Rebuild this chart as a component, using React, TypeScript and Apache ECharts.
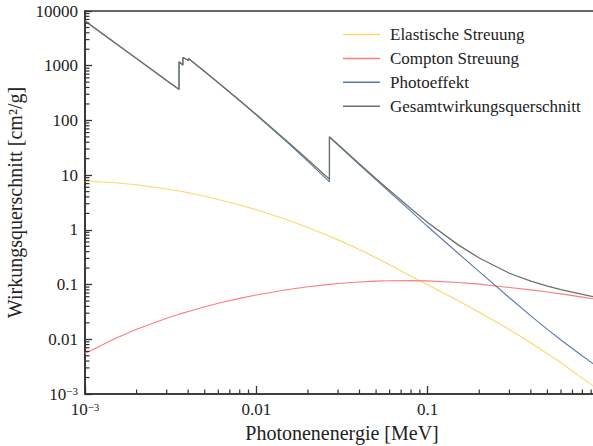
import React, { useEffect, useRef } from 'react';
import * as echarts from 'echarts';

// Photon energy [MeV] (duplicated energies = absorption edges)
const ENERGY = [0.001, 0.0015, 0.002, 0.003, 0.003538, 0.003538, 0.003727, 0.003727, 0.004018, 0.004018, 0.005, 0.006, 0.008, 0.01, 0.015, 0.02, 0.02671, 0.02671, 0.03, 0.04, 0.05, 0.06, 0.08, 0.1, 0.15, 0.2, 0.3, 0.4, 0.5, 0.6, 0.8, 1.0];
const ELASTIC = [7.80, 7.27, 6.66, 5.59, 5.12, 5.12, 4.97, 4.97, 4.75, 4.75, 4.12, 3.60, 2.85, 2.33, 1.54, 1.10, 0.766, 0.766, 0.656, 0.436, 0.309, 0.231, 0.1425, 0.0993, 0.0510, 0.0313, 0.0151, 0.00863, 0.00546, 0.00372, 0.00193, 0.00118];
const COMPTON = [0.0055, 0.0103, 0.0152, 0.0242, 0.0286, 0.0286, 0.0301, 0.0301, 0.0323, 0.0323, 0.0392, 0.0454, 0.056, 0.0646, 0.0805, 0.0912, 0.1009, 0.1009, 0.1045, 0.1117, 0.1156, 0.1177, 0.1183, 0.1167, 0.1093, 0.1019, 0.0885, 0.0800, 0.0730, 0.0677, 0.0590, 0.0530];
const PHOTO = [6552, 2599, 1345, 530, 366, 1178, 1025, 1420, 1240, 1351, 776, 486, 228.5, 125.5, 40.9, 17.87, 7.51, 49.5, 35.4, 15.5, 8.19, 4.89, 2.17, 1.15, 0.377, 0.173, 0.0574, 0.0268, 0.01518, 0.00971, 0.00494, 0.00299];
const TOTAL = [6560, 2606, 1352, 536, 371, 1183, 1030, 1425, 1245, 1356, 780, 490, 231.4, 127.9, 42.5, 19.06, 8.38, 50.37, 36.16, 16.05, 8.61, 5.24, 2.431, 1.366, 0.537, 0.306, 0.161, 0.1154, 0.0936, 0.0811, 0.0659, 0.0572];

const SERIES_NAMES = ['Elastische Streuung', 'Compton Streuung', 'Photoeffekt', 'Gesamtwirkungsquerschnitt'];
const SERIES_COLORS = ['#ffd766', '#ff7c7c', '#5b78b0', '#6a7262'];

const X_MIN = 0.001;
const X_MAX = 1;
const Y_MIN = 0.001;
const Y_MAX = 10000;

const MANTISSAS = [2, 3, 4, 5, 6, 7, 8, 9];
const X_DECADES = [0.001, 0.01, 0.1];
const Y_DECADES = [0.001, 0.01, 0.1, 1, 10, 100, 1000];

const FONT = 'Liberation Serif';

function fmtTick(v: number, hideOne: boolean): string {
  const e = Math.round(Math.log10(v));
  if (e === -3) return '{b|10}{s|\u22123}';
  if (e === 0 && hideOne) return '';
  if (e < 0) return (Math.pow(10, e)).toFixed(-e);
  return String(Math.round(Math.pow(10, e)));
}

export default function App() {
  const ref = useRef<HTMLDivElement>(null);
  useEffect(() => {
    if (!ref.current) return;
    const chart = echarts.init(ref.current, undefined, { renderer: 'svg' });
    const minorX: number[] = [];
    X_DECADES.forEach((d) => MANTISSAS.forEach((m) => minorX.push(m * d)));
    const minorY: number[] = [];
    Y_DECADES.forEach((d) => MANTISSAS.forEach((m) => minorY.push(m * d)));

    const rich = {
      b: { fontSize: 17, fontFamily: FONT, color: '#222' },
      s: { fontSize: 11, fontFamily: FONT, color: '#222', verticalAlign: 'top' },
    };

    const lineSeries = [ELASTIC, COMPTON, PHOTO, TOTAL].map((vals, i) => ({
      name: SERIES_NAMES[i],
      type: 'line',
      data: ENERGY.map((e, j) => [e, vals[j]]),
      symbol: 'none',
      showSymbol: false,
      smooth: false,
      lineStyle: { color: SERIES_COLORS[i], width: i === 3 ? 1.3 : 1.1 },
      itemStyle: { color: SERIES_COLORS[i] },
      z: 3 + i,
    }));

    const option: any = {
      animation: false,
      backgroundColor: '#fff',
      textStyle: { fontFamily: FONT },
      grid: {
        left: 85, top: 11, bottom: 52, right: -6,
        show: true, borderColor: '#333', borderWidth: 1.6,
        containLabel: false, outerBoundsMode: 'none',
      },
      legend: {
        orient: 'vertical', left: 338, top: 21,
        icon: 'rect', itemWidth: 37, itemHeight: 1.5, itemGap: 6.9,
        data: SERIES_NAMES,
        textStyle: { fontSize: 17, color: '#222', fontFamily: FONT, padding: [0, 0, 0, 5] },
      },
      xAxis: {
        type: 'log', logBase: 10, min: X_MIN, max: X_MAX, interval: 1, splitNumber: 3,
        name: 'Photonenenergie [MeV]', nameLocation: 'middle', nameGap: 24,
        nameTextStyle: { fontSize: 20, color: '#222', fontFamily: FONT, verticalAlign: 'top' },
        axisLine: { show: true, lineStyle: { color: '#333', width: 1.6 } },
        axisTick: { show: true, inside: true, length: 8, lineStyle: { color: '#333', width: 1.3 } },
        minorTick: { show: false },
        splitLine: { show: false },
        axisLabel: { fontSize: 17, color: '#222', fontFamily: FONT, margin: 7, formatter: (v: number) => fmtTick(v, true), rich },
      },
      yAxis: {
        type: 'log', logBase: 10, min: Y_MIN, max: Y_MAX, interval: 1, splitNumber: 7,
        name: 'Wirkungsquerschnitt [cm\u00b2/g]', nameLocation: 'middle', nameGap: 49, nameRotate: 90,
        nameTextStyle: { fontSize: 20, color: '#222', fontFamily: FONT },
        axisLine: { show: true, lineStyle: { color: '#333', width: 1.6 } },
        axisTick: { show: true, inside: true, length: 7, lineStyle: { color: '#333', width: 1.3 } },
        minorTick: { show: false },
        splitLine: { show: false },
        axisLabel: { fontSize: 17, color: '#222', fontFamily: FONT, margin: 7, formatter: (v: number) => fmtTick(v, false), rich },
      },
      series: [
        ...lineSeries,
        {
          type: 'custom', name: 'minorX', coordinateSystem: 'cartesian2d', silent: true, clip: false,
          data: minorX.map((v) => [v, Y_MIN]),
          renderItem: (_p: any, api: any) => {
            const pt = api.coord([api.value(0), api.value(1)]);
            return { type: 'line', shape: { x1: pt[0], y1: pt[1], x2: pt[0], y2: pt[1] - 4.5 }, style: { stroke: '#333', lineWidth: 1.2 } };
          },
          z: 10,
        },
        {
          type: 'custom', name: 'minorY', coordinateSystem: 'cartesian2d', silent: true, clip: false,
          data: minorY.map((v) => [X_MIN, v]),
          renderItem: (_p: any, api: any) => {
            const pt = api.coord([api.value(0), api.value(1)]);
            return { type: 'line', shape: { x1: pt[0], y1: pt[1], x2: pt[0] + 4.5, y2: pt[1] }, style: { stroke: '#333', lineWidth: 1.2 } };
          },
          z: 10,
        },
      ],
    };
    chart.setOption(option);
    return () => chart.dispose();
  }, []);
  return <div ref={ref} style={{ position: 'absolute', left: 0, top: 0, width: 593, height: 446 }} />;
}
